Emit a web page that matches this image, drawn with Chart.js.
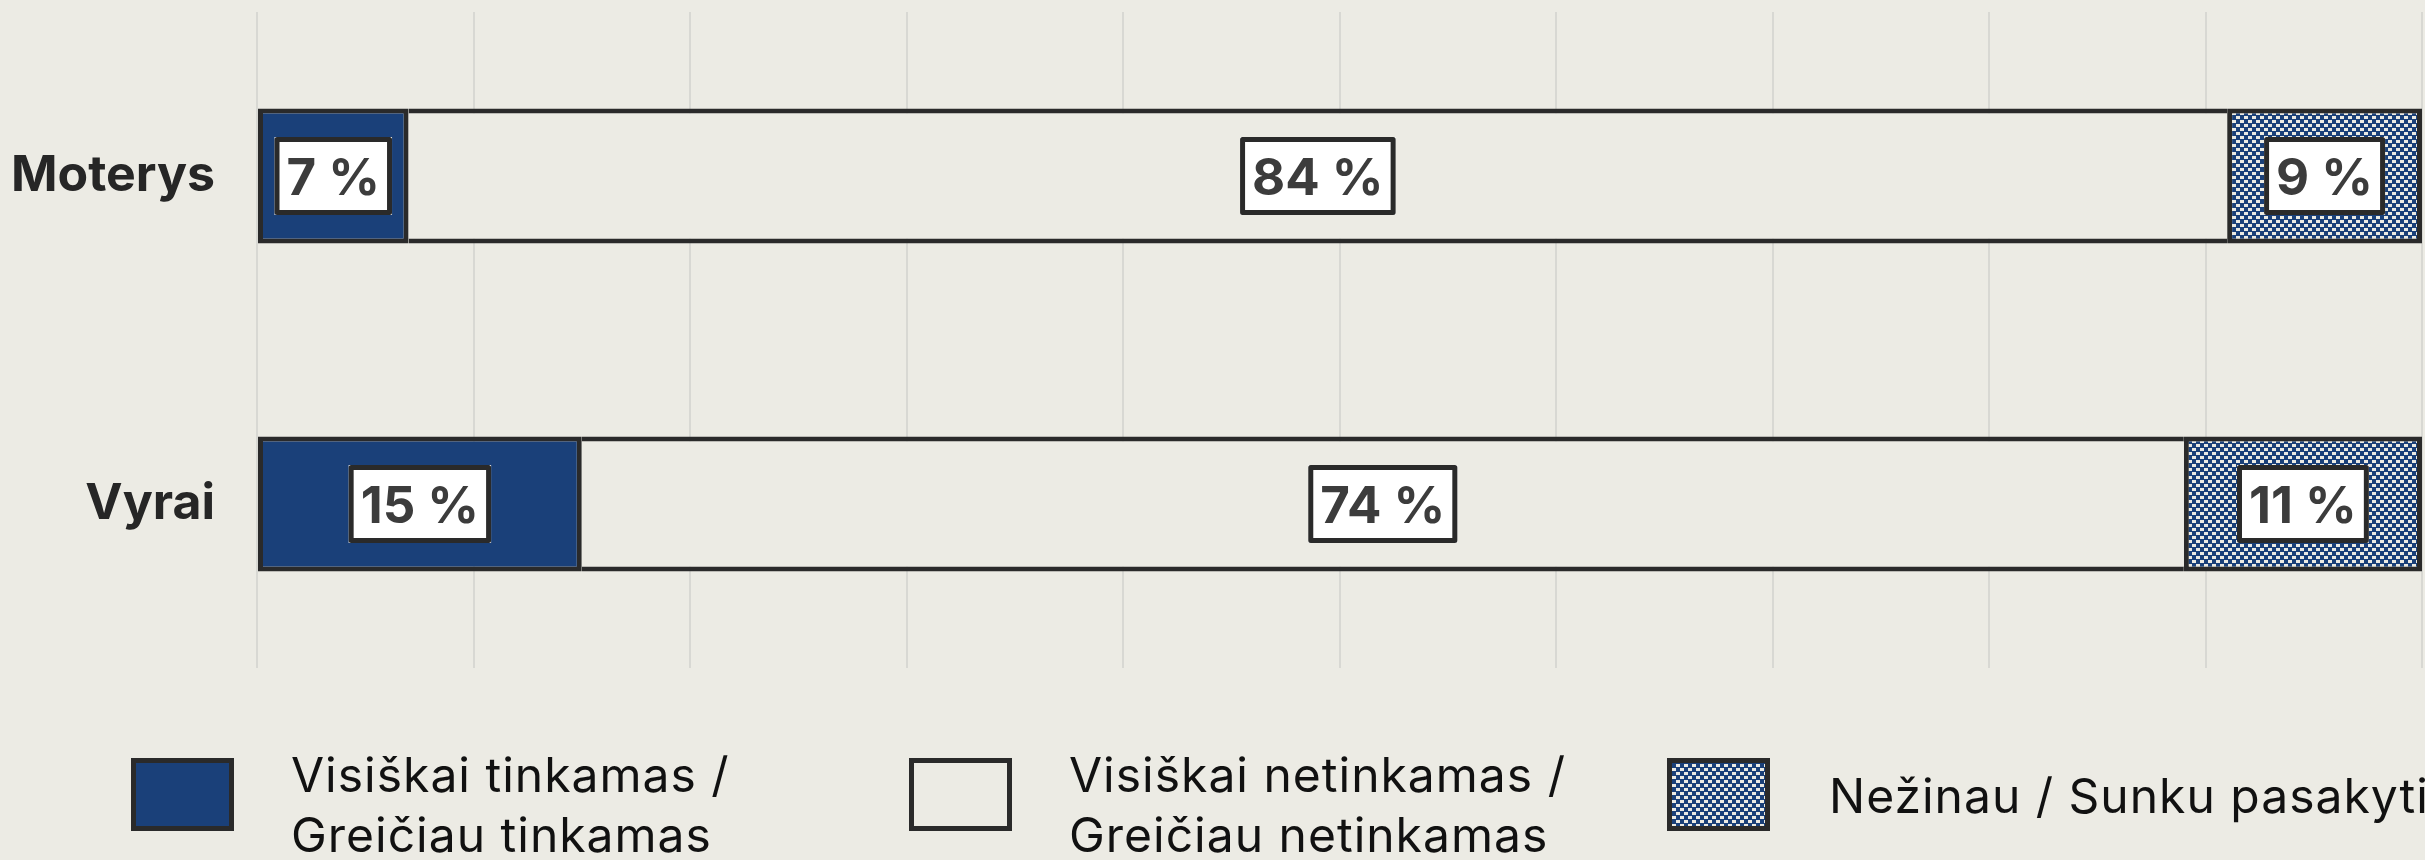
<!DOCTYPE html>
<html>
<head>
<meta charset="utf-8">
<script src="https://cdn.jsdelivr.net/npm/chart.js@4.4.1/dist/chart.umd.min.js"></script>
<style>
html, body { margin: 0; padding: 0; background: #ECEBE4; }
#wrap { width: 2425px; height: 860px; position: relative; }
canvas { display: block; }
</style>
</head>
<body>
<div id="wrap"><canvas id="c" width="2425" height="860"></canvas></div>
<script>
// ---- data ----
const categories = ['Moterys', 'Vyrai'];
const seriesTinkamas = [7, 15];
const seriesNetinkamas = [84, 74];
const seriesNezinau = [9, 11];
const legendLabels = [
  ['Visiškai tinkamas /', 'Greičiau tinkamas'],
  ['Visiškai netinkamas /', 'Greičiau netinkamas'],
  ['Nežinau / Sunku pasakyti']
];
const xTickValues = [0, 10, 20, 30, 40, 50, 60, 70, 80, 90, 100];

// ---- styles ----
const BG = '#ECEBE4';
const BLUE = '#1A4079';
const DARK = '#2A2A2A';
const GRID = '#D8D8D3';
const FONT = 'Inter, "Noto Sans", sans-serif';

function makePattern() {
  const p = document.createElement('canvas');
  p.width = 8; p.height = 8;
  const c = p.getContext('2d');
  c.fillStyle = BLUE;
  c.fillRect(0, 0, 8, 8);
  c.fillStyle = BG;
  c.fillRect(0, 0, 4, 3);
  c.fillRect(4, 4, 4, 3);
  return document.getElementById('c').getContext('2d').createPattern(p, 'repeat');
}
const PATTERN = makePattern();

const boxLabels = {
  id: 'boxLabels',
  afterDatasetsDraw(chart) {
    const ctx = chart.ctx;
    ctx.save();
    chart.data.datasets.forEach((ds, di) => {
      const meta = chart.getDatasetMeta(di);
      meta.data.forEach((bar, i) => {
        const txt = ds.data[i] + ' %';
        const cx = (bar.x + bar.base) / 2;
        const cy = bar.y;
        ctx.font = '700 51px ' + FONT;
        const tw = ctx.measureText(txt).width;
        const bw = tw + 24, bh = 78;
        const x0 = cx - bw / 2, y0 = cy - bh / 2;
        ctx.fillStyle = '#FFFFFF';
        ctx.fillRect(x0, y0, bw, bh);
        ctx.lineWidth = 5;
        ctx.strokeStyle = DARK;
        ctx.lineJoin = 'round';
        ctx.strokeRect(x0 + 2.5, y0 + 2.5, bw - 5, bh - 5);
        ctx.fillStyle = '#3C3C3C';
        ctx.textAlign = 'center';
        ctx.textBaseline = 'alphabetic';
        ctx.fillText(txt, cx, cy + 18.5);
      });
    });
    ctx.restore();
  }
};

const customLegend = {
  id: 'customLegend',
  afterDraw(chart) {
    const ctx = chart.ctx;
    const itemX = [131, 909, 1667];
    const boxY = 758, boxW = 103, boxH = 73;
    ctx.save();
    chart.data.datasets.forEach((ds, di) => {
      const bx = itemX[di];
      ctx.fillStyle = DARK;
      ctx.fillRect(bx, boxY, boxW, boxH);
      ctx.fillStyle = ds.backgroundColor;
      ctx.fillRect(bx + 5, boxY + 5, boxW - 10, boxH - 10);
      const lines = ds.label;
      ctx.font = '400 48px ' + FONT;
      ctx.letterSpacing = '1px';
      ctx.fillStyle = '#111111';
      ctx.textAlign = 'left';
      ctx.textBaseline = 'alphabetic';
      if (lines.length === 1) {
        ctx.fillText(lines[0], bx + 162, 813);
      } else {
        ctx.fillText(lines[0], bx + 160, 792);
        ctx.fillText(lines[1], bx + 160, 852);
      }
    });
    ctx.restore();
  }
};

const segBorder = { top: 5, bottom: 5, left: 5, right: 5 };
const midBorder = { top: 5, bottom: 5, left: 0, right: 0 };

new Chart(document.getElementById('c'), {
  type: 'bar',
  data: {
    labels: categories,
    datasets: [
      { label: legendLabels[0], data: seriesTinkamas, backgroundColor: BLUE, borderColor: DARK, borderWidth: segBorder, borderSkipped: false },
      { label: legendLabels[1], data: seriesNetinkamas, backgroundColor: BG, borderColor: DARK, borderWidth: midBorder, borderSkipped: false },
      { label: legendLabels[2], data: seriesNezinau, backgroundColor: PATTERN, borderColor: DARK, borderWidth: segBorder, borderSkipped: false }
    ]
  },
  options: {
    indexAxis: 'y',
    responsive: false,
    devicePixelRatio: 1,
    animation: false,
    layout: { padding: { top: 12, right: 3, bottom: 192, left: 0 } },
    datasets: { bar: { categoryPercentage: 1, barPercentage: 0.412 } },
    plugins: { legend: { display: false }, tooltip: { enabled: false } },
    scales: {
      x: {
        stacked: true,
        min: 0, max: 100,
        afterBuildTicks: (scale) => { scale.ticks = xTickValues.map(v => ({ value: v })); },
        afterFit: (scale) => { scale.height = 0; scale.paddingLeft = 0; scale.paddingRight = 0; },
        ticks: { display: false },
        grid: { display: true, color: GRID, lineWidth: 2, drawTicks: false, tickLength: 0 },
        border: { display: false }
      },
      y: {
        stacked: true,
        afterFit: (scale) => { scale.width = 257; scale.paddingTop = 0; scale.paddingBottom = 0; },
        grid: { display: false, drawTicks: false },
        border: { display: false },
        ticks: { color: '#262626', padding: 42, font: { family: FONT, size: 50, weight: '700' } }
      }
    }
  },
  plugins: [boxLabels, customLegend]
});
</script>
</body>
</html>
